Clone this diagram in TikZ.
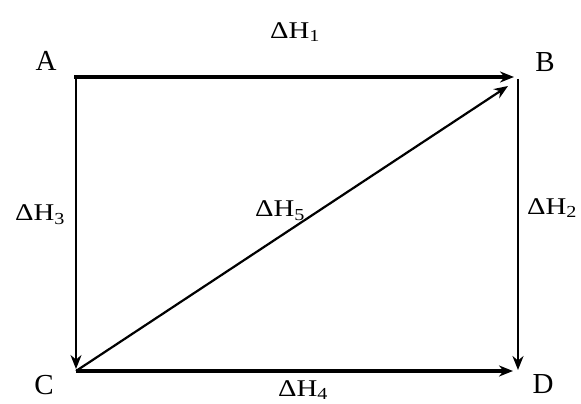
\documentclass[tikz,border=0pt]{standalone}
\usepackage{fontspec}
\usepackage{graphicx}
\setmainfont{Liberation Serif}
\usetikzlibrary{arrows.meta}
\newcommand{\dhtext}[1]{\scalebox{1.2}[1]{ΔH\textsubscript{#1}}}
\begin{document}
\begin{tikzpicture}[x=1pt,y=-1pt,
  lbl/.style={font=\fontsize{29}{31}\selectfont, inner sep=0pt},
  dh/.style={font=\fontsize{24}{26}\selectfont, inner sep=0pt},
  arr/.style={-{Stealth[length=14pt,width=11pt]}, line width=2.2pt},
  thick arr/.style={arr, line width=3.8pt}]
\useasboundingbox (0,0) rectangle (581,404);
\coordinate (a0) at (74,77);
\coordinate (a) at (76,77);
\coordinate (b) at (514,77);
\coordinate (b2) at (518,79);
\coordinate (b3) at (508,86);
\coordinate (c) at (76,371);
\coordinate (c1) at (76,369);
\coordinate (d) at (518,370);
\coordinate (d2) at (513,371);
\node[lbl] (A) at (46,61) {A};
\node[lbl] (B) at (545,62) {B};
\node[lbl] (C) at (44,385) {C};
\node[lbl] (D) at (543,384) {D};
\draw[thick arr] (a0) -- (b);
\draw[arr, line width=1.8pt] (a) -- (c1);
\draw[arr] (b2) -- (d);
\draw[thick arr] (c) -- (d2);
\draw[arr] (c) -- (b3);
\node[dh] (h1) at (295,32) {\dhtext{1}};
\node[dh] (h3) at (40,215) {\dhtext{3}};
\node[dh] (h5) at (280,211) {\dhtext{5}};
\node[dh] (h2) at (552,208) {\dhtext{2}};
\node[dh] (h4) at (303,390) {\dhtext{4}};
\end{tikzpicture}
\end{document}
